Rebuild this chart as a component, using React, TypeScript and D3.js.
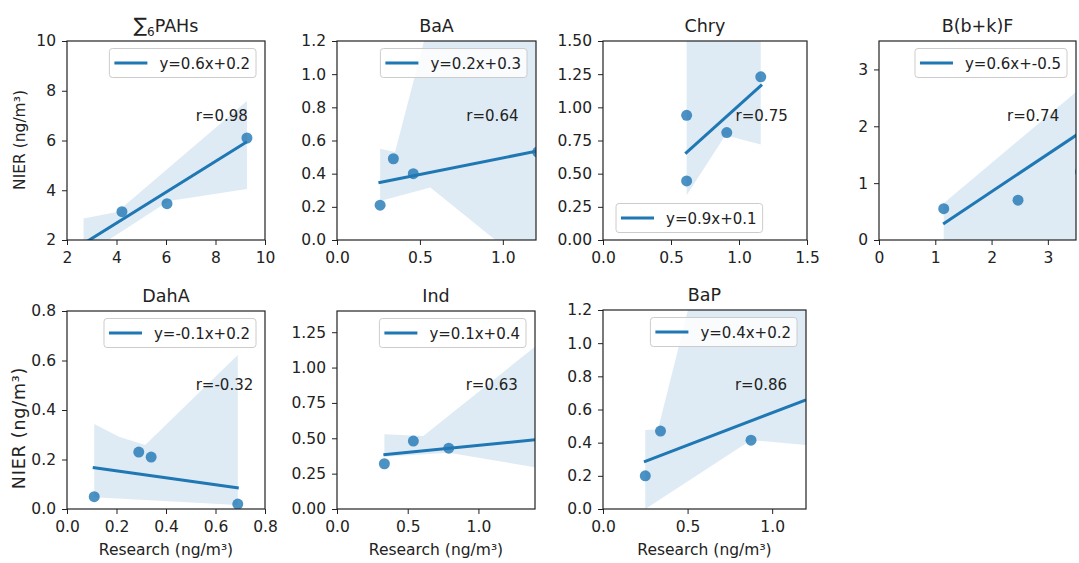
import React, { useRef, useEffect } from "react";
import * as d3 from "d3";

// panel titles, legend + correlation labels
const titles = ["∑6PAHs", "BaA", "Chry", "B(b+k)F", "DahA", "Ind", "BaP"];
const legendLabels = ["y=0.6x+0.2", "y=0.2x+0.3", "y=0.9x+0.1", "y=0.6x+-0.5", "y=-0.1x+0.2", "y=0.1x+0.4", "y=0.4x+0.2"];
const rLabels = ["r=0.98", "r=0.64", "r=0.75", "r=0.74", "r=-0.32", "r=0.63", "r=0.86"];

// axis domains and ticks
const xDomains = [[2, 10], [0, 1.2], [0, 1.5], [0, 3.5], [0, 0.8], [0, 1.4], [0, 1.2]];
const yDomains = [[2, 10], [0, 1.2], [0, 1.5], [0, 3.5], [0, 0.8], [0, 1.4], [0, 1.2]];
const xTicks = [[2, 4, 6, 8, 10], [0, 0.5, 1.0], [0, 0.5, 1.0, 1.5], [0, 1, 2, 3], [0, 0.2, 0.4, 0.6, 0.8], [0, 0.5, 1.0], [0, 0.5, 1.0]];
const yTicks = [[2, 4, 6, 8, 10], [0, 0.2, 0.4, 0.6, 0.8, 1.0, 1.2], [0, 0.25, 0.5, 0.75, 1.0, 1.25, 1.5], [0, 1, 2, 3], [0, 0.2, 0.4, 0.6, 0.8], [0, 0.25, 0.5, 0.75, 1.0, 1.25], [0, 0.2, 0.4, 0.6, 0.8, 1.0, 1.2]];
const xFormats = ["d", ".1f", ".1f", "d", ".1f", ".1f", ".1f"];
const yFormats = ["d", ".1f", ".2f", "d", ".1f", ".2f", ".1f"];

// scatter points: Research (x) vs NIER (y)
const pahsX = [4.22, 6.04, 9.27];
const pahsY = [3.14, 3.46, 6.1];
const baaX = [0.26, 0.34, 0.46, 1.21];
const baaY = [0.21, 0.49, 0.4, 0.53];
const chryX = [0.615, 0.615, 0.91, 1.16];
const chryY = [0.94, 0.445, 0.81, 1.23];
const bbkfX = [1.15, 2.47, 3.58];
const bbkfY = [0.55, 0.7, 1.2];
const dahaX = [0.11, 0.29, 0.34, 0.69];
const dahaY = [0.05, 0.23, 0.21, 0.02];
const indX = [0.335, 0.54, 0.79];
const indY = [0.32, 0.48, 0.43];
const bapX = [0.25, 0.34, 0.875];
const bapY = [0.2, 0.47, 0.415];

// fitted lines
const slopes = [0.62, 0.2, 0.92, 0.66, -0.14, 0.1, 0.39];
const intercepts = [0.2, 0.295, 0.095, -0.47, 0.182, 0.35, 0.19];
const fitStart = [2.67, 0.25, 0.605, 1.14, 0.104, 0.328, 0.242];
const fitEnd = [9.27, 1.21, 1.169, 3.58, 0.694, 1.4, 1.2];

// confidence bands (upper / lower edges)
const upX = [[2.67, 4.02, 9.27], [0.26, 0.35, 0.53, 1.21], [0.615, 1.16], [1.15, 3.58], [0.11, 0.21, 0.316, 0.69], [0.335, 0.61, 1.4], [0.25, 0.325, 0.502, 1.2]];
const upY = [[2.86, 3.13, 7.59], [0.55, 0.53, 1.22, 2.6], [1.7, 1.7], [0.645, 2.67], [0.343, 0.292, 0.259, 0.622], [0.528, 0.516, 1.148], [0.476, 0.48, 1.2, 2.5]];
const loX = [[2.67, 3.68, 6.11, 9.27], [0.26, 0.563, 0.955, 1.21], [0.615, 0.9, 1.16], [1.15, 3.58], [0.11, 0.69], [0.335, 0.79, 1.4], [0.25, 0.876, 1.2]];
const loY = [[1.2, 2.0, 3.57, 4.05], [0.235, 0.316, 0, -0.2], [0.337, 0.79, 0.72], [-1, -1], [0.047, 0.016], [0.37, 0.398, 0.295], [0.0, 0.416, 0.386]];

const pointsX = [pahsX, baaX, chryX, bbkfX, dahaX, indX, bapX];
const pointsY = [pahsY, baaY, chryY, bbkfY, dahaY, indY, bapY];

// axes boxes in pixels
const boxes = [
  { x: 67, y: 41, w: 198, h: 199 },
  { x: 337, y: 41, w: 199, h: 199 },
  { x: 603, y: 41, w: 204, h: 199 },
  { x: 879, y: 41, w: 197, h: 199 },
  { x: 67, y: 311, w: 198, h: 198 },
  { x: 337, y: 311, w: 198, h: 198 },
  { x: 603, y: 310, w: 203, h: 199 },
];

const blue = "#1f77b4";
const font = "'DejaVu Sans', sans-serif";

const App = () => {
  const svgRef = useRef<SVGSVGElement>(null);

  useEffect(() => {
    const svg = d3.select(svgRef.current);
    svg.selectAll("*").remove();

    titles.forEach((title, i) => {
      const b = boxes[i];
      const x = d3.scaleLinear().domain(xDomains[i]).range([b.x, b.x + b.w]);
      const y = d3.scaleLinear().domain(yDomains[i]).range([b.y + b.h, b.y]);

      svg.append("clipPath").attr("id", `clip${i}`)
        .append("rect").attr("x", b.x).attr("y", b.y).attr("width", b.w).attr("height", b.h);
      const g = svg.append("g").attr("clip-path", `url(#clip${i})`);

      // band
      const poly: [number, number][] = upX[i].map((v, k) => [x(v), y(upY[i][k])] as [number, number])
        .concat(loX[i].map((v, k) => [x(v), y(loY[i][k])] as [number, number]).reverse());
      g.append("path")
        .attr("d", d3.line().curve(d3.curveLinearClosed)(poly))
        .attr("fill", blue).attr("fill-opacity", 0.15);

      // points
      g.selectAll("circle").data(pointsX[i]).join("circle")
        .attr("cx", (d) => x(d))
        .attr("cy", (d, k) => y(pointsY[i][k]))
        .attr("r", 5.5)
        .attr("fill", blue).attr("fill-opacity", 0.8);

      // fit line
      const fx = [fitStart[i], fitEnd[i]];
      g.append("path")
        .attr("d", d3.line<number>().x((d) => x(d)).y((d) => y(slopes[i] * d + intercepts[i]))(fx))
        .attr("stroke", blue).attr("stroke-width", 3).attr("fill", "none");

      // axes
      const xa = svg.append("g").attr("transform", `translate(0,${b.y + b.h})`)
        .call(d3.axisBottom(x).tickValues(xTicks[i]).tickFormat(d3.format(xFormats[i])).tickSize(5).tickPadding(7));
      const ya = svg.append("g").attr("transform", `translate(${b.x},0)`)
        .call(d3.axisLeft(y).tickValues(yTicks[i]).tickFormat(d3.format(yFormats[i])).tickSize(5).tickPadding(6));
      [xa, ya].forEach((a) => {
        a.select(".domain").remove();
        a.selectAll("line").attr("stroke", "#222").attr("stroke-width", 1);
        a.selectAll("text").attr("fill", "#222").style("font-size", "15.5px").style("font-family", font);
      });

      svg.append("rect").attr("x", b.x).attr("y", b.y).attr("width", b.w).attr("height", b.h)
        .attr("fill", "none").attr("stroke", "#222").attr("stroke-width", 1.2);

      // title
      const t = svg.append("text").attr("x", b.x + b.w / 2).attr("y", b.y - 9)
        .attr("text-anchor", "middle").attr("fill", "#222")
        .style("font-family", font).style("font-size", "17.5px");
      if (i === 0) {
        t.append("tspan").style("font-size", "20px").text("∑");
        t.append("tspan").attr("dy", 4).style("font-size", "12px").text("6");
        t.append("tspan").attr("dy", -4).text("PAHs");
      } else {
        t.text(title);
      }

      // r label
      svg.append("text").attr("x", b.x + 0.65 * b.w).attr("y", b.y + b.h - 0.6 * b.h)
        .attr("fill", "#222").style("font-family", font).style("font-size", "15px")
        .text(rLabels[i]);

      // legend
      const lg = svg.append("g");
      const lt = lg.append("text").style("font-family", font).style("font-size", "15px")
        .attr("fill", "#222").text(legendLabels[i]);
      const tw = (lt.node() as SVGTextElement).getComputedTextLength();
      const lw = 50 + tw + 6;
      const lh = 29;
      const lx = i === 2 ? b.x + 13 : b.x + b.w - 9 - lw;
      const ly = i === 2 ? b.y + b.h - 7.5 - lh : b.y + 7.5;
      lg.insert("rect", "text").attr("x", lx).attr("y", ly).attr("width", lw).attr("height", lh)
        .attr("rx", 3).attr("fill", "#fff").attr("fill-opacity", 0.8)
        .attr("stroke", "#ccc").attr("stroke-width", 1);
      lg.append("line").attr("x1", lx + 5).attr("x2", lx + 38).attr("y1", ly + lh / 2).attr("y2", ly + lh / 2)
        .attr("stroke", blue).attr("stroke-width", 3);
      lt.attr("x", lx + 50).attr("y", ly + lh / 2 + 5.5);

      // axis labels
      if (i === 0 || i === 4) {
        const cy = i === 0 ? 140 : 428;
        svg.append("text").attr("transform", `translate(25,${cy}) rotate(-90)`)
          .attr("text-anchor", "middle").attr("fill", "#222")
          .style("font-family", font).style("font-size", i === 0 ? "15.5px" : "17.5px")
          .style("letter-spacing", i === 0 ? "0px" : "0.8px")
          .text("NIER (ng/m³)");
      }
      if (i >= 4) {
        svg.append("text").attr("x", b.x + b.w / 2).attr("y", 555)
          .attr("text-anchor", "middle").attr("fill", "#222")
          .style("font-family", font).style("font-size", "15.5px")
          .text("Research (ng/m³)");
      }
    });
  }, []);

  return (
    <svg ref={svgRef} width={1079} height={563}
      style={{ position: "absolute", left: 0, top: 0, background: "#fff" }} />
  );
};

export default App;
